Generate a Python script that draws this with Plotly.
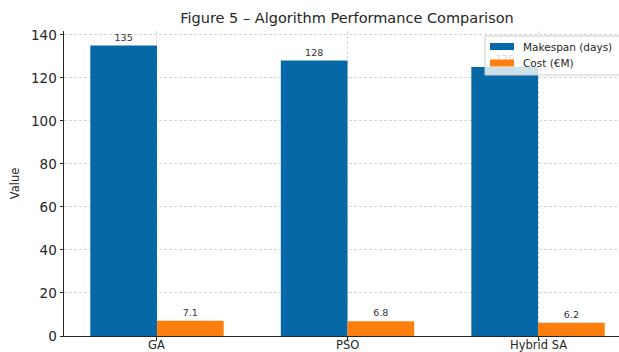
import plotly.graph_objects as go

# Data
algorithms = ["GA", "PSO", "Hybrid SA"]
makespan_days = [135, 128, 125]
cost_meur = [7.1, 6.8, 6.2]
series_names = ["Makespan (days)", "Cost (€M)"]

blue = "#0668a6"
orange = "#ff7f0e"
ink = "#262626"
font_family = "DejaVu Sans, sans-serif"

# plot area in pixels
L, R, T, B = 64, 619, 31, 336


def px(xp):
    return (xp - L) / (R - L)


def py(yp):
    return (B - yp) / (B - T)


fig = go.Figure()
for name, vals, col in [(series_names[0], makespan_days, blue),
                        (series_names[1], cost_meur, orange)]:
    fig.add_trace(go.Bar(
        x=algorithms, y=vals, name=name, showlegend=False,
        marker=dict(color=col, line=dict(width=0)),
        text=[f"{v}" for v in vals], textposition="outside",
        textfont=dict(size=9.5, color="#333333", family=font_family),
        cliponaxis=False,
    ))

# category labels placed just under the baseline
for name in algorithms:
    fig.add_annotation(
        x=name, y=0, xref="x", yref="y", text=name, showarrow=False,
        yanchor="middle", yshift=-8.5, font=dict(size=11.5, color=ink),
    )

# legend box in the upper right corner
fig.add_shape(
    type="rect", xref="paper", yref="paper", layer="above",
    x0=px(485), x1=px(640), y0=py(75), y1=py(36),
    fillcolor="rgba(255,255,255,0.8)", line=dict(color="#cccccc", width=1),
)
for i, (name, col) in enumerate(zip(series_names, [blue, orange])):
    yc = 46.5 + 16.5 * i
    fig.add_shape(
        type="rect", xref="paper", yref="paper", layer="above",
        x0=px(490), x1=px(514), y0=py(yc + 3.5), y1=py(yc - 3.5),
        fillcolor=col, line=dict(width=0),
    )
    fig.add_annotation(
        x=px(521), y=py(yc), xref="paper", yref="paper", text=name,
        showarrow=False, xanchor="left", yanchor="middle",
        font=dict(size=10.5, color=ink),
    )

fig.update_layout(
    width=619, height=352,
    margin=dict(l=L, r=619 - R, t=T, b=352 - B),
    paper_bgcolor="white", plot_bgcolor="white",
    barmode="group", bargap=0.3, bargroupgap=0,
    font=dict(family=font_family, color=ink),
    title=dict(
        text="Figure 5 – Algorithm Performance Comparison",
        x=347 / 619, xanchor="center", y=1 - 18 / 352, yanchor="middle",
        font=dict(size=14.5, color=ink),
    ),
    showlegend=False,
)

fig.update_xaxes(
    type="category", range=[-0.488, 2.425],
    showline=True, linecolor=ink, linewidth=1,
    ticks="outside", ticklen=3.5, tickcolor=ink,
    showticklabels=False,
    showgrid=True, gridcolor="#d6d6d6", griddash="3px,2px", gridwidth=0.8,
    zeroline=False, automargin=False,
)
fig.update_yaxes(
    range=[0, 141.75],
    tickvals=[0, 20, 40, 60, 80, 100, 120, 140],
    showline=True, linecolor=ink, linewidth=1,
    ticks="outside", ticklen=3.5, tickcolor=ink,
    tickfont=dict(size=13.5, color=ink),
    showgrid=True, gridcolor="#d6d6d6", griddash="3px,2px", gridwidth=0.8,
    zeroline=False, automargin=False,
    title=dict(text="Value", font=dict(size=11.5, color=ink), standoff=8),
)

fig.write_html("out.html")
